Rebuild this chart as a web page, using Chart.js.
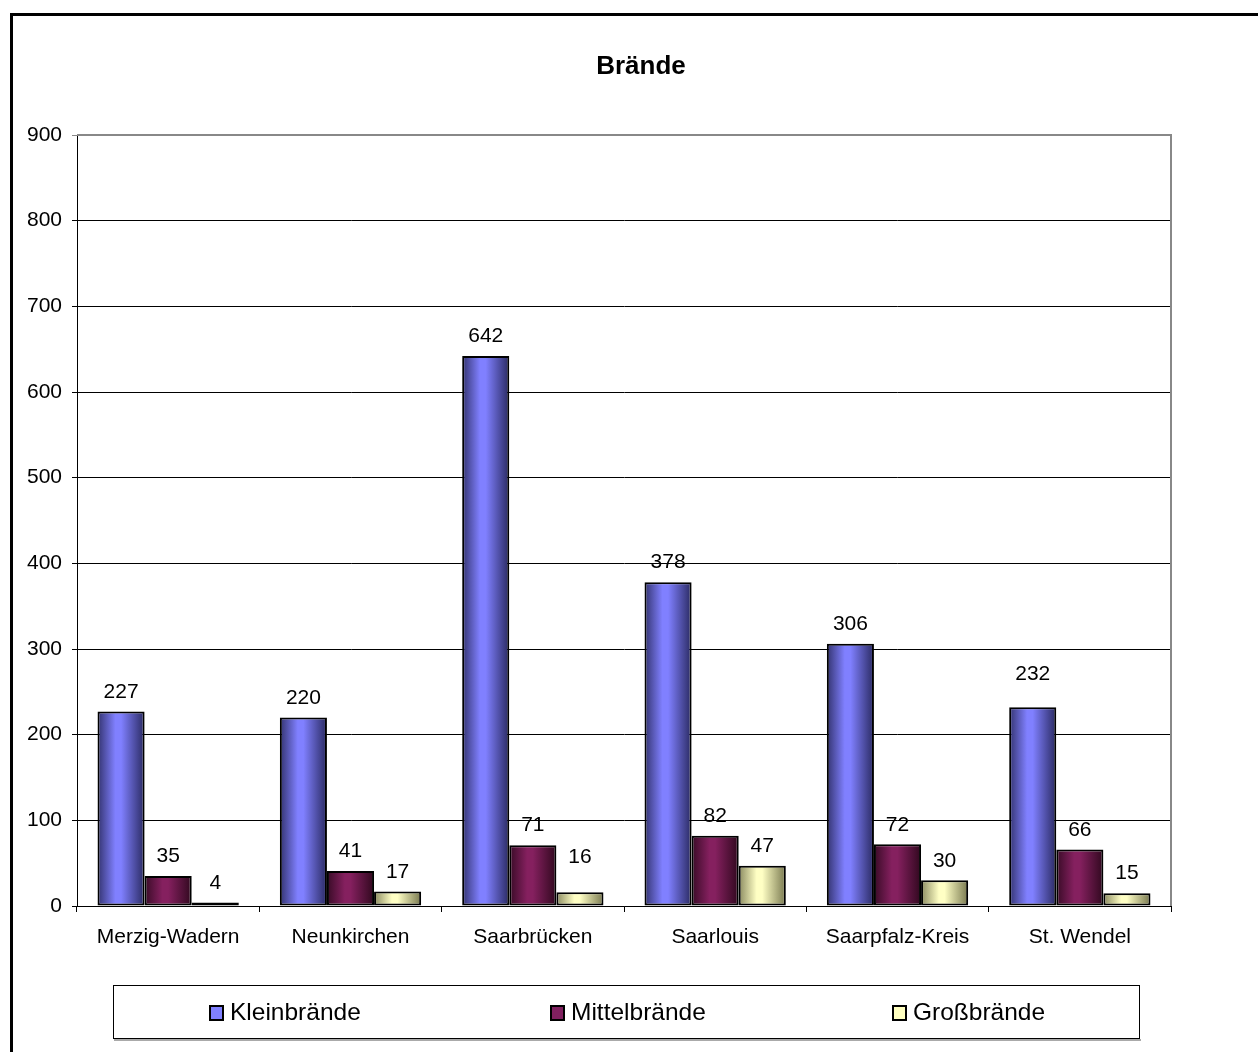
<!DOCTYPE html>
<html>
<head>
<meta charset="utf-8">
<script src="https://cdn.jsdelivr.net/npm/chart.js@4"></script>
<style>
  html, body { margin: 0; padding: 0; background: #fff; }
  #wrap { width: 1258px; height: 1052px; }
</style>
</head>
<body>
<div id="wrap"><canvas id="braendeChart" width="1258" height="1052"></canvas></div>
<script>
const kreise = ['Merzig-Wadern', 'Neunkirchen', 'Saarbrücken', 'Saarlouis', 'Saarpfalz-Kreis', 'St. Wendel'];
const kleinbraende = [227, 220, 642, 378, 306, 232];
const mittelbraende = [35, 41, 71, 82, 72, 66];
const grossbraende = [4, 17, 16, 47, 30, 15];
const serienNamen = ['Kleinbrände', 'Mittelbrände', 'Großbrände'];
const yTicks = [0, 100, 200, 300, 400, 500, 600, 700, 800, 900];

const fontFam = 'Arial, "Liberation Sans", sans-serif';
const catPct = 0.775;

// Zylinder-Schattierung: dunkle Kanten, helle Mitte
const shades = [
    { edgeL: '#33336f', mid: '#8080ff', edgeR: '#2a2a62', flat: '#8080ff' },
    { edgeL: '#380b26', mid: '#85205f', edgeR: '#30081e', flat: '#80205f' },
    { edgeL: '#8a8a60', mid: '#ffffc4', edgeR: '#78784f', flat: '#ffffc0' }
];

// manche Beschriftungen sitzen im Original etwas hoeher
const labelLift = { '0-5': 14, '2-2': 16 };

function barFill(ctx) {
    const chart = ctx.chart;
    const s = shades[ctx.datasetIndex];
    if (!chart.chartArea || ctx.dataIndex === undefined) return s.flat;
    const x = chart.scales.x;
    const catW = (chart.chartArea.right - chart.chartArea.left) / kreise.length;
    const barW = catW * catPct / 3;
    const c = x.getPixelForValue(ctx.dataIndex) + (ctx.datasetIndex - 1) * barW;
    const g = chart.ctx.createLinearGradient(c - barW / 2, 0, c + barW / 2, 0);
    g.addColorStop(0, s.edgeL);
    g.addColorStop(0.38, s.mid);
    g.addColorStop(0.5, s.mid);
    g.addColorStop(1, s.edgeR);
    return g;
}

const rahmenPlugin = {
    id: 'rahmen',
    beforeDraw(chart) {
        const c = chart.ctx;
        c.save();
        c.fillStyle = '#fff';
        c.fillRect(0, 0, chart.width, chart.height);
        c.strokeStyle = '#000';
        c.lineWidth = 3;
        c.strokeRect(11.5, 14.5, 1400, 1200);
        c.restore();
    },
    afterDraw(chart) {
        const c = chart.ctx;
        const a = chart.chartArea;
        c.save();
        // grauer Rand oben/rechts
        c.strokeStyle = '#888';
        c.lineWidth = 2;
        c.beginPath();
        c.moveTo(a.left, a.top);
        c.lineTo(a.right, a.top);
        c.lineTo(a.right, a.bottom);
        c.stroke();

        // Titel
        c.fillStyle = '#000';
        c.font = 'bold 26px ' + fontFam;
        c.textAlign = 'center';
        c.textBaseline = 'middle';
        c.fillText('Brände', 641, 67);

        // Werte ueber den Balken
        c.font = '21px ' + fontFam;
        c.textBaseline = 'bottom';
        chart.data.datasets.forEach((ds, i) => {
            chart.getDatasetMeta(i).data.forEach((bar, j) => {
                const lift = labelLift[i + '-' + j] || 0;
                c.fillText(String(ds.data[j]), bar.x, bar.y - 9 - lift);
            });
        });

        // Legende
        c.fillStyle = '#aaa';
        c.fillRect(114, 1039, 1027, 2);
        c.strokeStyle = '#000';
        c.lineWidth = 1;
        c.fillStyle = '#fff';
        c.fillRect(113.5, 985.5, 1026, 53);
        c.strokeRect(113.5, 985.5, 1026, 53);
        const lx = [210, 551, 893];
        c.font = '24.5px ' + fontFam;
        c.textAlign = 'left';
        c.textBaseline = 'middle';
        serienNamen.forEach((name, i) => {
            c.fillStyle = shades[i].flat;
            c.fillRect(lx[i], 1006, 13, 14);
            c.strokeStyle = '#000';
            c.lineWidth = 2;
            c.strokeRect(lx[i], 1006, 13, 14);
            c.fillStyle = '#000';
            c.fillText(name, lx[i] + 20, 1013);
        });
        c.restore();
    }
};

new Chart(document.getElementById('braendeChart').getContext('2d'), {
    type: 'bar',
    data: {
        labels: kreise,
        datasets: [
            { label: serienNamen[0], data: kleinbraende },
            { label: serienNamen[1], data: mittelbraende },
            { label: serienNamen[2], data: grossbraende }
        ].map(d => Object.assign(d, {
            backgroundColor: barFill,
            borderColor: '#000',
            borderWidth: 2,
            borderSkipped: false,
            barPercentage: 1,
            categoryPercentage: catPct
        }))
    },
    options: {
        responsive: false,
        animation: false,
        events: [],
        layout: { padding: { left: 0, right: 87, top: 135, bottom: 0 } },
        plugins: {
            legend: { display: false },
            title: { display: false },
            tooltip: { enabled: false }
        },
        scales: {
            x: {
                offset: true,
                afterFit: s => { s.height = 146; },
                grid: { display: true, drawOnChartArea: false, drawTicks: true, tickLength: 6, color: '#000', offset: true },
                border: { color: '#000', width: 1 },
                ticks: { color: '#000', font: { family: fontFam, size: 21 }, padding: 13, maxRotation: 0 }
            },
            y: {
                min: 0,
                max: 900,
                afterFit: s => { s.width = 77; },
                afterBuildTicks: s => { s.ticks = yTicks.map(v => ({ value: v })); },
                grid: {
                    color: c => c.tick && c.tick.value === 900 ? '#888' : '#000',
                    lineWidth: 1,
                    tickLength: 5,
                    drawTicks: true
                },
                border: { color: '#000', width: 1 },
                ticks: { color: '#000', font: { family: fontFam, size: 21 }, padding: 10 }
            }
        }
    },
    plugins: [rahmenPlugin]
});
</script>
</body>
</html>
